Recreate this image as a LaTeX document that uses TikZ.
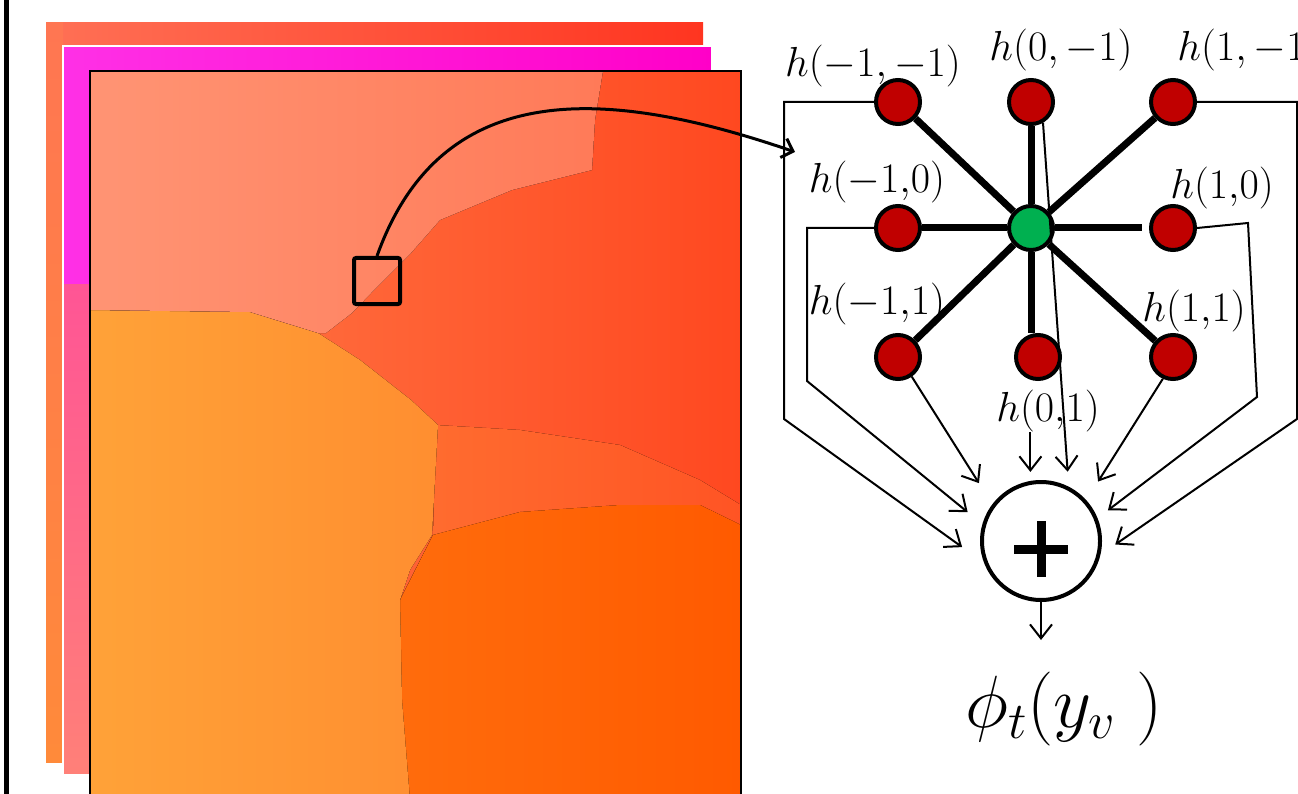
\RequirePackage{fix-cm}
\documentclass[tikz,border=0pt]{standalone}
\usetikzlibrary{arrows.meta,calc,positioning}
\definecolor{bkL}{HTML}{FF7055}
\definecolor{bkR}{HTML}{FF3520}
\definecolor{bkT}{HTML}{FF7652}
\definecolor{bkB}{HTML}{FF8A3A}
\definecolor{mgL}{HTML}{FF30E6}
\definecolor{mgR}{HTML}{FF00C8}
\definecolor{pkT}{HTML}{FF5595}
\definecolor{pkB}{HTML}{FF8078}
\definecolor{frL}{HTML}{FF7A48}
\definecolor{frR}{HTML}{FF4820}
\definecolor{ltL}{HTML}{FF9474}
\definecolor{ltR}{HTML}{FF7A58}
\definecolor{orL}{HTML}{FFA238}
\definecolor{orR}{HTML}{FF8E30}
\definecolor{rdL}{HTML}{FF6E30}
\definecolor{rdR}{HTML}{FF5424}
\definecolor{dkL}{HTML}{FF6C0C}
\definecolor{dkR}{HTML}{FF5A00}
\definecolor{dred}{HTML}{C00000}
\definecolor{dgreen}{HTML}{00B050}

\begin{document}
\begin{tikzpicture}[x=1pt,y=-1pt,
  hdot/.style={circle,draw,line width=4pt,minimum size=44pt,inner sep=0pt},
  lbl/.style={font=\fontsize{42}{50}\selectfont,inner sep=0pt},
  spoke/.style={line width=7pt},
  feed/.style={line width=2pt,-{Straight Barb[length=14pt,width=22pt]}}]
  \useasboundingbox (0,0) rectangle (1298,794);
  \draw[line width=5pt] (6,0)--(6,794);
  % stacked label maps
  \fill[left color=bkL,right color=bkR] (46,23) rectangle (703,762);
  \fill[top color=bkT,bottom color=bkB] (46,23) rectangle (63,762);
  \fill[left color=mgL,right color=mgR] (63,46) rectangle (712,775);
  \fill[top color=pkT,bottom color=pkB] (63,285) rectangle (90,775);
  \draw[white,line width=1.5pt] (63,46) rectangle (712,775);
  \fill[left color=frL,right color=frR] (90,71) rectangle (741,800);
  \fill[left color=rdL,right color=rdR] (436,425)--(520,430)--(620,445)--(700,480)--(741,505)--(741,800)--(400,800)--(400,600)--(433,535)--cycle;
  \fill[left color=dkL,right color=dkR] (433,535)--(520,512)--(620,505)--(700,505)--(741,525)--(741,800)--(402,800)--(400,600)--cycle;
  \fill[left color=orL,right color=orR] (90,310)--(250,312)--(318,333)--(360,360)--(411,400)--(438,425)--(435,480)--(432,535)--(410,570)--(400,600)--(402,700)--(410,800)--(90,800)--cycle;
  \fill[left color=ltL,right color=ltR] (90,71)--(603,71)--(595,120)--(592,170)--(512,190)--(440,220)--(411,253)--(377,287)--(352,313)--(326,333)--(318,333)--(250,312)--(90,310)--cycle;
  \draw[line width=1.5pt] (90,71) rectangle (741,800);
  \node[draw,line width=4pt,minimum size=46pt,inner sep=0pt,rounded corners=2pt] (win) at (377,281) {};
  \coordinate (graph) at (795,152);
  \draw[line width=3pt,-{Straight Barb[length=10pt,width=20pt]}] (win.north) .. controls (440,80) and (600,85) .. (graph);
  % pairwise terms
  \foreach \n/\px/\py in {hNW/898/102,hN/1031/102,hNE/1173/102,hW/898/228,hE/1173/228,hSW/898/357,hS/1038/357,hSE/1173/357}
    {\node[hdot,fill=dred] (\n) at (\px,\py) {};}
  \node[hdot,fill=dgreen] (c) at (1031,228) {};
  \foreach \n in {hNW,hN,hNE,hW,hSW,hSE}
    {\draw[spoke] (c)--(\n);}
  \draw[spoke,shorten >=7pt] (c)--(hE);
  \draw[spoke] (c)--(c |- hS.north);
  \foreach \n/\px/\py/\t in {NW/873/66/{h(-1,-1)},N/1061/50/{h(0,-1)},NE/1249/50/{h(1,-1)},W/877/182/{h(-1{,}0)},E/1222/188/{h(1{,}0)},SW/877/304/{h(-1{,}1)},SE/1194/311/{h(1{,}1)},S/1048/411/{h(0{,}1)}}
    {\node[lbl] (l\n) at (\px,\py) {$\t$};}
  \node[circle,draw,line width=4pt,minimum size=118pt,inner sep=0pt] (sum) at (1041,541) {};
  \draw[line width=9pt] ($(sum)+(-27,8)$)--($(sum)+(27,8)$) ($(sum)+(0,-20)$)--($(sum)+(0,36)$);
  \draw[feed,shorten >=27pt] (hNW.west) -| (784,419) -- (sum.201);
  \draw[feed,shorten >=19pt] (hW.west) -| (807,381) -- (sum.164);
  \draw[feed,shorten >=25pt] (hSW.-55) -- (sum.143);
  \draw[feed,shorten >=9pt] (sum.100 |- lS.south) -- (sum.100);
  \draw[feed,shorten >=15pt] (hN.-60) -- (sum.63);
  \draw[feed,shorten >=22pt] (hSE.-115) -- (sum.42);
  \draw[feed,shorten >=13pt] (hE.east) -- (1248,223) -- (1257,397) -- (sum.22);
  \draw[feed,shorten >=18pt] (hNE.east) -- (1297,102) -- (1297,419) -- (sum.-13.5);
  \node[font=\fontsize{74}{80}\selectfont,inner sep=0pt] (out) at (1064,709) {$\phi_t(y_v\;)$};
  \coordinate (outtip) at (1041,640);
  \draw[feed] (sum.south)--(outtip);
\end{tikzpicture}
\end{document}
